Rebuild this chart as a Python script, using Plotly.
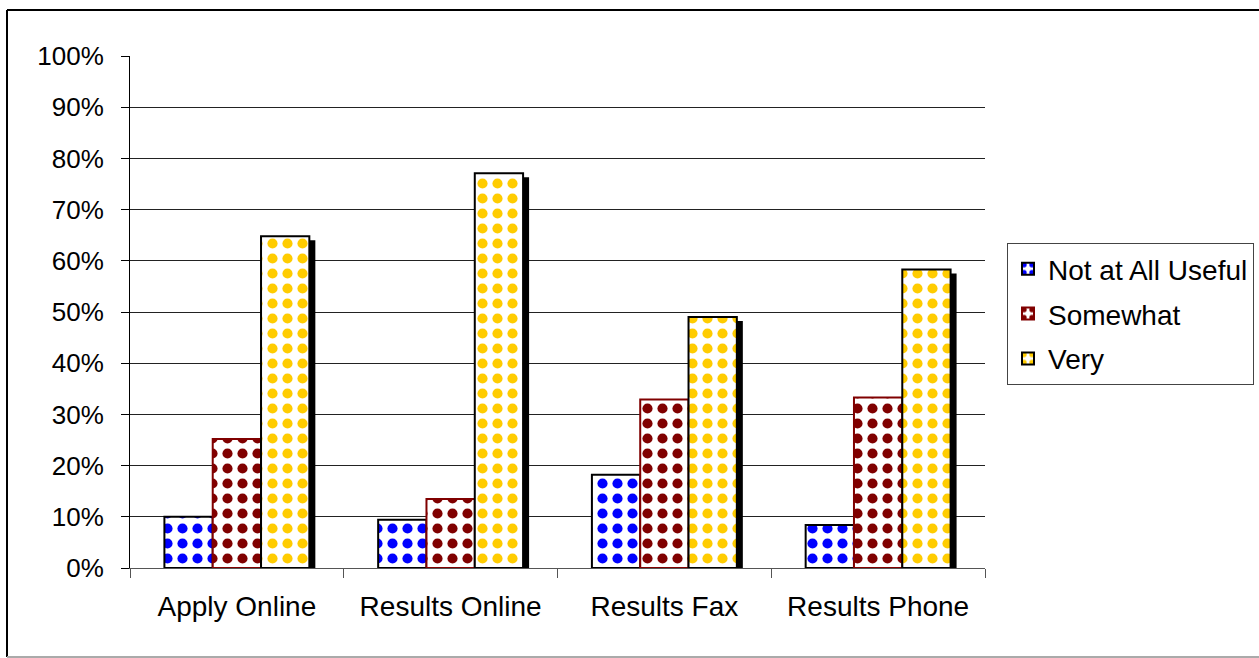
import plotly.graph_objects as go

categories = ["Apply Online", "Results Online", "Results Fax", "Results Phone"]
not_at_all = [10.0, 9.4, 18.2, 8.4]
somewhat = [25.2, 13.5, 32.9, 33.3]
very = [64.8, 77.1, 49.0, 58.3]
series_names = ["Not at All Useful", "Somewhat", "Very"]
y_ticks = [0, 10, 20, 30, 40, 50, 60, 70, 80, 90, 100]

W, H = 1259, 658
L, R, T, B = 130, 274, 56, 90
pw, ph = W - L - R, H - T - B
cat_px = pw / len(categories)
px_per_pct = ph / 100.0

bar_w = 0.226
offsets = [-0.339, -0.113, 0.113]
shadow_dx = 6 / cat_px
shadow_dy = 4 / px_per_pct

fig = go.Figure()

def pattern_bar(name, vals, color, line_color, off, grp):
    return go.Bar(
        name=name, x=categories, y=vals, offset=off, width=bar_w,
        legendgroup=grp,
        marker=dict(
            color="white",
            line=dict(color=line_color, width=2),
            pattern=dict(shape=".", fgcolor=color, bgcolor="white",
                         fgopacity=1, size=15, solidity=0.36,
                         fillmode="replace"),
        ),
        hoverinfo="x+y",
    )

fig.add_trace(pattern_bar(series_names[0], not_at_all, "#0000FF", "#000000", offsets[0], "g1"))
fig.add_trace(pattern_bar(series_names[1], somewhat, "#800000", "#800000", offsets[1], "g2"))
# shadow under the "Very" bars
fig.add_trace(go.Bar(
    x=categories, y=[v - shadow_dy for v in very], offset=offsets[2] + shadow_dx,
    width=bar_w, marker=dict(color="#000000", line=dict(width=0)),
    showlegend=False, hoverinfo="skip", legendgroup="g3",
))
fig.add_trace(pattern_bar(series_names[2], very, "#FFCC00", "#000000", offsets[2], "g3"))

font_family = "Liberation Sans, Arial, sans-serif"

def px_to_paper_x(px):
    return (px - L) / pw

def px_to_paper_y(py):
    return (H - B - py) / ph

shapes = [
    dict(type="line", xref="paper", yref="paper",
         x0=px_to_paper_x(7), x1=px_to_paper_x(7),
         y0=px_to_paper_y(10), y1=px_to_paper_y(657),
         line=dict(color="#000000", width=2)),
    dict(type="line", xref="paper", yref="paper",
         x0=px_to_paper_x(7), x1=px_to_paper_x(1265),
         y0=px_to_paper_y(10), y1=px_to_paper_y(10),
         line=dict(color="#000000", width=2)),
    dict(type="line", xref="paper", yref="paper",
         x0=px_to_paper_x(7), x1=px_to_paper_x(1265),
         y0=px_to_paper_y(657), y1=px_to_paper_y(657),
         line=dict(color="#AAAAAA", width=2)),
]

fig.update_layout(
    width=W, height=H,
    margin=dict(l=L, r=R, t=T, b=B, pad=0, autoexpand=False),
    paper_bgcolor="white", plot_bgcolor="white",
    barmode="overlay",
    font=dict(family=font_family, color="#000000", size=26),
    shapes=shapes,
    showlegend=True,
    legend=dict(
        xref="container", yref="container",
        x=1007 / W, xanchor="left",
        y=1 - 243 / H, yanchor="top",
        bgcolor="white", bordercolor="#444444", borderwidth=1,
        font=dict(size=28, family=font_family),
        traceorder="grouped", tracegroupgap=5.5,
    ),
    xaxis=dict(
        type="category", showline=True, linecolor="#555555", linewidth=1,
        ticks="outside", ticklen=9, tickcolor="#555555", tickson="boundaries",
        showgrid=False, tickfont=dict(size=28), ticklabelstandoff=13,
        range=[-0.5, 3.5], fixedrange=True,
    ),
    yaxis=dict(
        range=[0, 100], tickvals=y_ticks,
        ticktext=[f"{t}%" for t in y_ticks],
        showline=True, linecolor="#000000", linewidth=1,
        ticks="outside", ticklen=8, tickcolor="#000000",
        showgrid=True, gridcolor="#222222", gridwidth=1,
        zeroline=False, tickfont=dict(size=26), ticklabelstandoff=12,
    ),
)

fig.write_html("out.html")
